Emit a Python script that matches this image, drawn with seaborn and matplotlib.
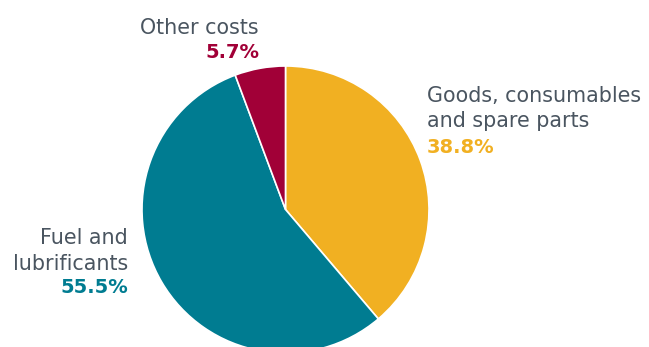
import matplotlib
matplotlib.use("Agg")
import matplotlib.pyplot as plt
import seaborn as sns

categories = ["Goods, consumables\nand spare parts", "Fuel and\nlubrificants", "Other costs"]
shares = [38.8, 55.5, 5.7]
colors = ["#F1B022", "#007C91", "#A10037"]

sns.set_theme(style="white")
plt.rcParams['font.family'] = ['DejaVu Sans']

fig = plt.figure(figsize=(6.49, 3.47), dpi=100)
ax = fig.add_axes([0, 0, 1, 1])

ax.pie(shares, colors=colors, startangle=90, counterclock=False,
       center=(285.5, 137.5), radius=143.5, frame=True,
       wedgeprops=dict(edgecolor="white", linewidth=1.2))
ax.set_xlim(0, 649)
ax.set_ylim(0, 347)
ax.set_aspect("equal")
ax.axis("off")

grey = "#4A5560"
fs = 14.9
H = 347


def label(x, baselines, name, pct, color, ha):
    lines = name.split("\n")
    for line, y in zip(lines, baselines):
        ax.text(x, H - y, line, color=grey, fontsize=fs, ha=ha, va="baseline")
    ax.text(x, H - baselines[-1], f"{pct}%", color=color, fontsize=14,
            fontweight="bold", ha=ha, va="baseline")


label(427, [102, 127, 153], categories[0], shares[0], colors[0], "left")
label(128, [244, 270, 293], categories[1], shares[1], colors[1], "right")
label(259, [34, 58], categories[2], shares[2], colors[2], "right")

fig.savefig("out.png", dpi=100)
